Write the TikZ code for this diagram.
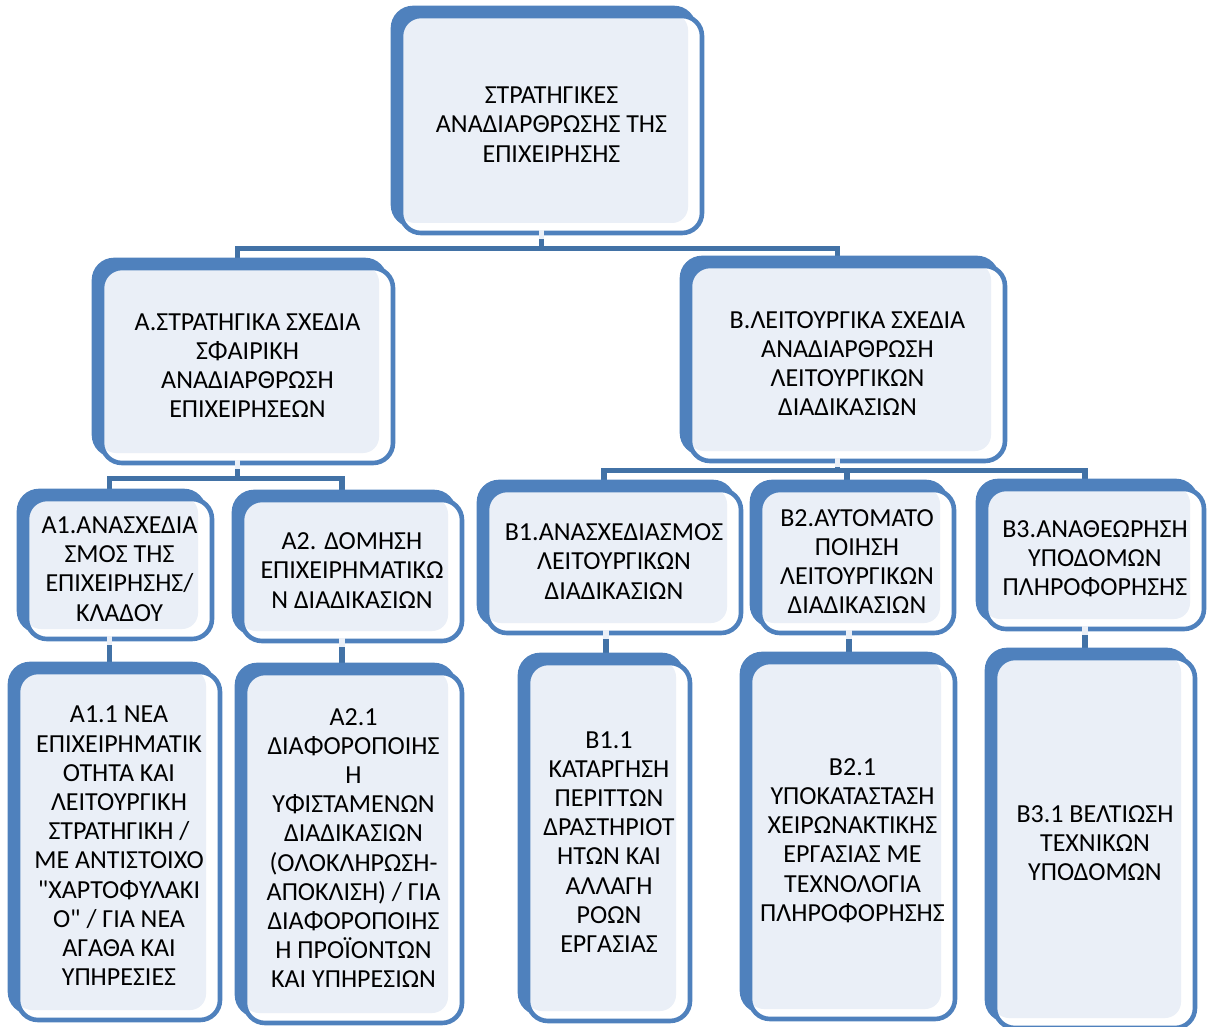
\documentclass[tikz,border=0pt]{standalone}
\usepackage{fontspec}
\setmainfont{Carlito}
\usetikzlibrary{positioning,shadows,backgrounds}

\definecolor{boxblue}{HTML}{4F81BD}
\definecolor{linkblue}{HTML}{4272A6}
\definecolor{boxfill}{HTML}{EAEFF7}

\tikzset{
  plan/.style={draw=boxblue, line width=4.6pt, fill=white, rounded corners=20pt,
    inner sep=0pt, align=center, font=\fontsize{26}{29.2}\selectfont,
    copy shadow={shadow xshift=-8pt, shadow yshift=8pt, fill=boxblue, draw=boxblue},
    path picture={\fill[boxfill, rounded corners=16pt]
      ([xshift=-2pt,yshift=2pt]path picture bounding box.north west) rectangle
      ([xshift=-14pt,yshift=10pt]path picture bounding box.south east);}},
  link/.style={draw=linkblue, line width=5.5pt},
  stub/.style={draw=boxfill, line width=5.5pt}
}

\begin{document}
\begin{tikzpicture}[x=1pt, y=-1pt]
\useasboundingbox (0,0) rectangle (1211,1027);

%==================== κορυφή ====================
\node[plan, minimum width=301, minimum height=217] (top) at (551.5,124.5)
  {ΣΤΡΑΤΗΓΙΚΕΣ\\ΑΝΑΔΙΑΡΘΡΩΣΗΣ ΤΗΣ\\ΕΠΙΧΕΙΡΗΣΗΣ};

%==================== επίπεδο 1 ====================
\node[plan, minimum width=291, minimum height=195] (a) at (247.5,365.5)
  {Α.ΣΤΡΑΤΗΓΙΚΑ ΣΧΕΔΙΑ\\ΣΦΑΙΡΙΚΗ\\ΑΝΑΔΙΑΡΘΡΩΣΗ\\ΕΠΙΧΕΙΡΗΣΕΩΝ};
\node[plan, minimum width=315, minimum height=195] (b) at (847.5,363.5)
  {Β.ΛΕΙΤΟΥΡΓΙΚΑ ΣΧΕΔΙΑ\\ΑΝΑΔΙΑΡΘΡΩΣΗ\\ΛΕΙΤΟΥΡΓΙΚΩΝ\\ΔΙΑΔΙΚΑΣΙΩΝ};

%==================== επίπεδο 2 ====================
\node[plan, minimum width=185, minimum height=140] (a1) at (119.5,569)
  {Α1.ΑΝΑΣΧΕΔΙΑ\\ΣΜΟΣ ΤΗΣ\\ΕΠΙΧΕΙΡΗΣΗΣ/\\ΚΛΑΔΟΥ};
\node[plan, minimum width=220, minimum height=141] (a2) at (352,570.5)
  {Α2. ΔΟΜΗΣΗ\\ΕΠΙΧΕΙΡΗΜΑΤΙΚΩ\\Ν ΔΙΑΔΙΚΑΣΙΩΝ};
\node[plan, minimum width=254, minimum height=143] (b1) at (614,561.5)
  {Β1.ΑΝΑΣΧΕΔΙΑΣΜΟΣ\\ΛΕΙΤΟΥΡΓΙΚΩΝ\\ΔΙΑΔΙΚΑΣΙΩΝ};
\node[plan, minimum width=194, minimum height=143] (b2) at (857,561.5)
  {Β2.ΑΥΤΟΜΑΤΟ\\ΠΟΙΗΣΗ\\ΛΕΙΤΟΥΡΓΙΚΩΝ\\ΔΙΑΔΙΚΑΣΙΩΝ};
\node[plan, minimum width=218, minimum height=140] (b3) at (1095,559)
  {Β3.ΑΝΑΘΕΩΡΗΣΗ\\ΥΠΟΔΟΜΩΝ\\ΠΛΗΡΟΦΟΡΗΣΗΣ};

%==================== επίπεδο 3 ====================
\node[plan, minimum width=202, minimum height=348] (a11) at (119,846)
  {Α1.1 ΝΕΑ\\ΕΠΙΧΕΙΡΗΜΑΤΙΚ\\ΟΤΗΤΑ ΚΑΙ\\ΛΕΙΤΟΥΡΓΙΚΗ\\ΣΤΡΑΤΗΓΙΚΗ /\\ΜΕ ΑΝΤΙΣΤΟΙΧΟ\\\textquotedbl ΧΑΡΤΟΦΥΛΑΚΙ\\Ο\textquotedbl{} / ΓΙΑ ΝΕΑ\\ΑΓΑΘΑ ΚΑΙ\\ΥΠΗΡΕΣΙΕΣ};
\node[plan, minimum width=217, minimum height=350] (a21) at (353.5,848)
  {Α2.1\\ΔΙΑΦΟΡΟΠΟΙΗΣ\\Η\\ΥΦΙΣΤΑΜΕΝΩΝ\\ΔΙΑΔΙΚΑΣΙΩΝ\\(ΟΛΟΚΛΗΡΩΣΗ-\\ΑΠΟΚΛΙΣΗ) / ΓΙΑ\\ΔΙΑΦΟΡΟΠΟΙΗΣ\\Η ΠΡΟΪΟΝΤΩΝ\\ΚΑΙ ΥΠΗΡΕΣΙΩΝ};
\node[plan, minimum width=162, minimum height=358] (b11) at (609,842)
  {Β1.1\\ΚΑΤΑΡΓΗΣΗ\\ΠΕΡΙΤΤΩΝ\\ΔΡΑΣΤΗΡΙΟΤ\\ΗΤΩΝ ΚΑΙ\\ΑΛΛΑΓΗ\\ΡΟΩΝ\\ΕΡΓΑΣΙΑΣ};
\node[plan, minimum width=205, minimum height=357] (b21) at (852.5,840.5)
  {Β2.1\\ΥΠΟΚΑΤΑΣΤΑΣΗ\\ΧΕΙΡΩΝΑΚΤΙΚΗΣ\\ΕΡΓΑΣΙΑΣ ΜΕ\\ΤΕΧΝΟΛΟΓΙΑ\\ΠΛΗΡΟΦΟΡΗΣΗΣ};
\node[plan, minimum width=200, minimum height=370] (b31) at (1095,843)
  {Β3.1 ΒΕΛΤΙΩΣΗ\\ΤΕΧΝΙΚΩΝ\\ΥΠΟΔΟΜΩΝ};

%==================== συνδέσεις ====================
\begin{pgfonlayer}{background}
\draw[link] ([xshift=-10pt]top.south) -- ++(0,13) -| ([xshift=-10pt]a.north);
\draw[link] ([xshift=-10pt]top.south) -- ++(0,13) -| ([xshift=-10pt]b.north);

\draw[link] ([xshift=-10pt]a.south) -- ++(0,13) -| ([xshift=-10pt]a1.north);
\draw[link] ([xshift=-10pt]a.south) -- ++(0,13) -| ([xshift=-10pt]a2.north);

\draw[link] ([xshift=-10pt]b.south) -- ++(0,7) -| ([xshift=-10pt]b1.north);
\draw[link] ([xshift=-10pt]b.south) -- ++(0,7) -| ([xshift=-10pt]b2.north);
\draw[link] ([xshift=-10pt]b.south) -- ++(0,7) -| ([xshift=-10pt]b3.north);

\draw[link] ([xshift=-10pt]a1.south) -- ([xshift=-10pt]a1.south |- a11.north);
\draw[link] ([xshift=-10pt]a2.south) -- ([xshift=-10pt]a2.south |- a21.north);
\draw[link] ([xshift=-8pt]b1.south) -- ([xshift=-8pt]b1.south |- b11.north);
\draw[link] ([xshift=-8pt]b2.south) -- ([xshift=-8pt]b2.south |- b21.north);
\draw[link] ([xshift=-10pt]b3.south) -- ([xshift=-10pt]b3.south |- b31.north);
\end{pgfonlayer}

% ανοιχτόχρωμα κομμάτια πάνω στο περίγραμμα
\foreach \p in {top,a,b,a1,a2,b3}
  \draw[stub] ([xshift=-10pt,yshift=5pt]\p.south) -- ([xshift=-10pt,yshift=-4pt]\p.south);
\foreach \p in {b1,b2}
  \draw[stub] ([xshift=-8pt,yshift=5pt]\p.south) -- ([xshift=-8pt,yshift=-4pt]\p.south);

\end{tikzpicture}
\end{document}
